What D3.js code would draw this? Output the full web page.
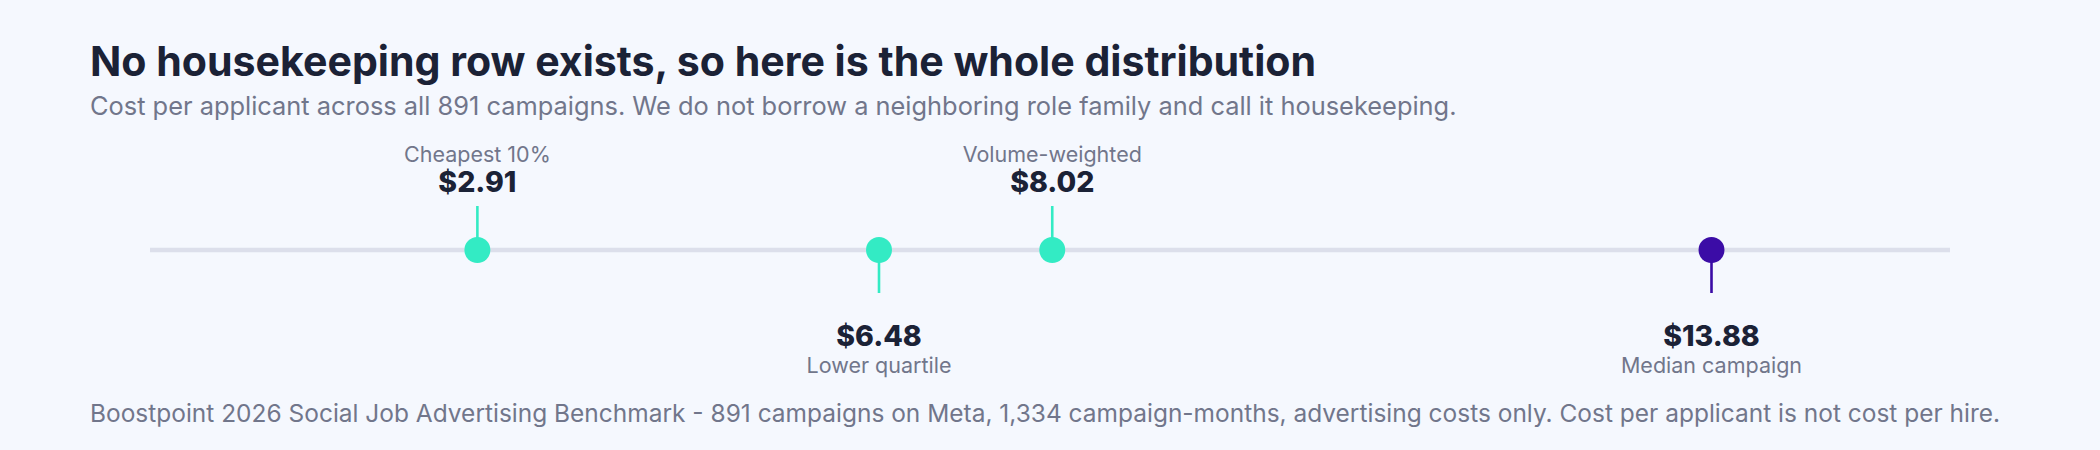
<!DOCTYPE html>
<html>
<head>
<meta charset="utf-8">
<script src="https://cdn.jsdelivr.net/npm/d3@7"></script>
<style>
  html, body { margin: 0; padding: 0; background: #f5f8fe; }
  svg { display: block; font-family: "Inter", "Open Sans", sans-serif; }
</style>
</head>
<body>
<div id="canvas"></div>
<script>
// chart values
var labels = ["Cheapest 10%", "Lower quartile", "Volume-weighted", "Median campaign"];
var values = [2.91, 6.48, 8.02, 13.88];
var highlight = "Median campaign";
var axisDomain = [0, 16];

var title = "No housekeeping row exists, so here is the whole distribution";
var subtitle = "Cost per applicant across all 891 campaigns. We do not borrow a neighboring role family and call it housekeeping.";
var footer = "Boostpoint 2026 Social Job Advertising Benchmark - 891 campaigns on Meta, 1,334 campaign-months, advertising costs only. Cost per applicant is not cost per hire.";

var width = 2100;
var height = 450;
var lineY = 250;

var svg = d3.select("#canvas").append("svg")
  .attr("width", width)
  .attr("height", height);

svg.append("rect")
  .attr("width", width)
  .attr("height", height)
  .attr("fill", "#f5f8fe");

// shrink/grow a text so it spans about the same width as the reference
function fit(sel, target) {
  var w = sel.node().getComputedTextLength();
  var fs = parseFloat(sel.attr("font-size"));
  sel.attr("font-size", (fs * target / w).toFixed(2) + "px");
}

var t = svg.append("text")
  .attr("x", 90)
  .attr("y", 76)
  .attr("font-size", "38px")
  .attr("font-weight", 700)
  .attr("fill", "#1b2236")
  .text(title);
fit(t, 1226);

var st = svg.append("text")
  .attr("x", 90)
  .attr("y", 115)
  .attr("font-size", "21px")
  .attr("fill", "#71768b")
  .text(subtitle);
fit(st, 1367);

var x = d3.scaleLinear()
  .domain(axisDomain)
  .range([150, 1950]);

svg.append("line")
  .attr("x1", x(axisDomain[0]))
  .attr("x2", x(axisDomain[1]))
  .attr("y1", lineY)
  .attr("y2", lineY)
  .attr("stroke", "#dcdfeb")
  .attr("stroke-width", 4.5);

var data = labels.map(function(l, i) { return {label: l, value: values[i]}; });
data.sort(function(a, b) { return a.value - b.value; });

var marks = svg.selectAll("g.mark").data(data)
  .enter().append("g")
  .attr("class", "mark")
  .attr("transform", function(d) { return "translate(" + x(d.value) + ",0)"; });

function col(d) { return d.label === highlight ? "#3b0ca6" : "#33ebc4"; }
function up(i) { return i % 2 === 0; }

marks.append("line")
  .attr("x1", 0).attr("x2", 0)
  .attr("y1", lineY)
  .attr("y2", function(d, i) { return up(i) ? lineY - 44 : lineY + 43; })
  .attr("stroke", col)
  .attr("stroke-width", 2.6);

marks.append("circle")
  .attr("cy", lineY)
  .attr("r", 13)
  .attr("fill", col);

marks.append("text")
  .attr("text-anchor", "middle")
  .attr("y", function(d, i) { return up(i) ? 192 : 346; })
  .attr("font-size", "28.5px")
  .attr("font-weight", 800)
  .attr("fill", "#1b2236")
  .text(function(d) { return "$" + d3.format(".2f")(d.value); });

marks.append("text")
  .attr("text-anchor", "middle")
  .attr("y", function(d, i) { return up(i) ? 162 : 373; })
  .attr("font-size", "21.5px")
  .attr("fill", "#71768b")
  .text(function(d) { return d.label; });

var ft = svg.append("text")
  .attr("x", 90)
  .attr("y", 422)
  .attr("font-size", "18px")
  .attr("fill", "#71768b")
  .text(footer);
fit(ft, 1911);
</script>
</body>
</html>
